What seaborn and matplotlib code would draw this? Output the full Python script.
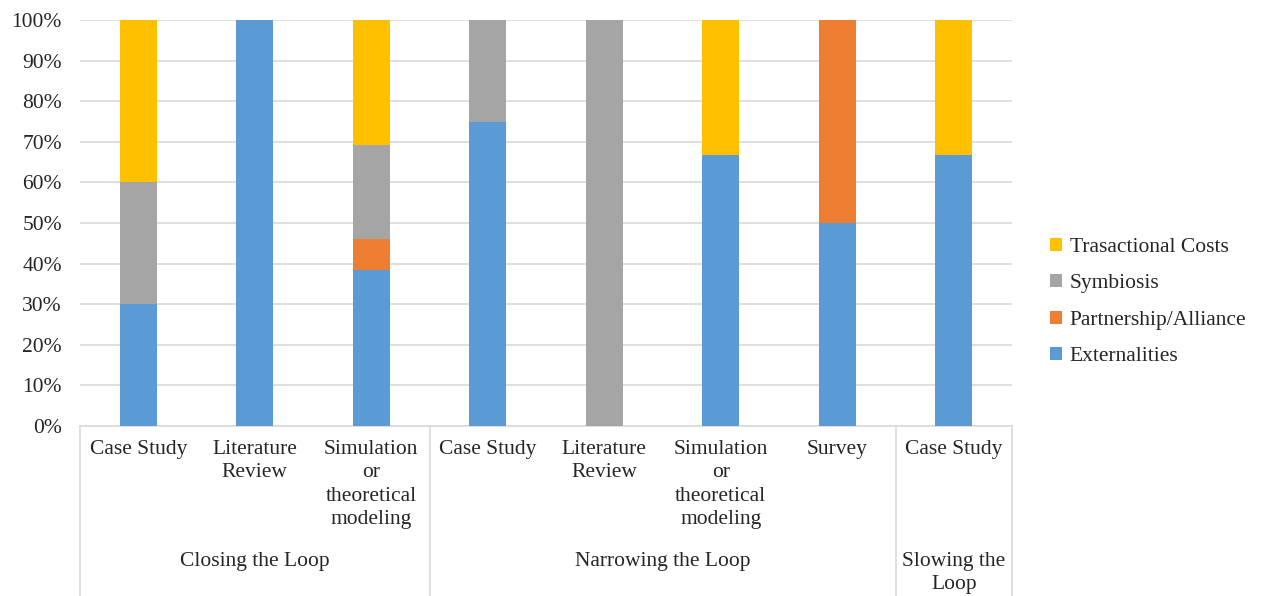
import matplotlib
matplotlib.use("Agg")
import matplotlib.pyplot as plt
import matplotlib.ticker as mticker
from matplotlib.patches import Patch
import numpy as np
import pandas as pd
import seaborn as sns

# Research method per slot and the circular-economy strategy group it belongs to
groups = ["Closing the Loop", "Closing the Loop", "Closing the Loop",
          "Narrowing the Loop", "Narrowing the Loop", "Narrowing the Loop", "Narrowing the Loop",
          "Slowing the\nLoop"]
methods = ["Case Study", "Literature\nReview", "Simulation\nor\ntheoretical\nmodeling",
           "Case Study", "Literature\nReview", "Simulation\nor\ntheoretical\nmodeling",
           "Survey", "Case Study"]

# Share of each theoretical lens (percent of studies)
externalities = [30.0, 100.0, 38.46, 75.0, 0.0, 66.67, 50.0, 66.67]
partnership = [0.0, 0.0, 7.69, 0.0, 0.0, 0.0, 50.0, 0.0]
symbiosis = [30.0, 0.0, 23.08, 25.0, 100.0, 0.0, 0.0, 0.0]
transactional = [40.0, 0.0, 30.77, 0.0, 0.0, 33.33, 0.0, 33.33]

series_names = ["Externalities", "Partnership/Alliance", "Symbiosis", "Trasactional Costs"]
series_colors = ["#5B9BD5", "#ED7D31", "#A5A5A5", "#FFC000"]

sns.set_theme(style="white")
plt.rcParams["font.family"] = ["Liberation Serif", "DejaVu Serif"]
FS = 15.5

slots = [f"s{i}" for i in range(len(methods))]
df = pd.DataFrame({
    "slot": slots,
    "Externalities": externalities,
    "Partnership/Alliance": partnership,
    "Symbiosis": symbiosis,
    "Trasactional Costs": transactional,
})
total = df[series_names].sum(axis=1)
for name in series_names:
    df[name] = df[name] / total

# cumulative tops so each segment sits on the ones below it
cum = df[series_names].cumsum(axis=1)

fig = plt.figure(figsize=(12.73, 5.96), dpi=100)
ax = fig.add_axes([80 / 1273, 1 - 426 / 596, (1012 - 80) / 1273, (426 - 20) / 596])

for name, color in reversed(list(zip(series_names, series_colors))):
    sns.barplot(x=df["slot"], y=cum[name], order=slots, color=color,
                width=0.32, saturation=1, ax=ax, linewidth=0, zorder=3)

ax.set_xlim(-0.5, len(slots) - 0.5)
ax.set_ylim(0, 1)
ax.yaxis.set_major_locator(mticker.MultipleLocator(0.1))
ax.yaxis.set_major_formatter(mticker.PercentFormatter(xmax=1, decimals=0))
ax.grid(axis="y", color="#D9D9D9", linewidth=1.2, zorder=0)
ax.grid(axis="x", visible=False)
ax.set_xlabel("")
ax.set_ylabel("")
ax.set_xticks(range(len(slots)))
ax.set_xticklabels([])
ax.tick_params(axis="both", length=0)
ax.tick_params(axis="y", labelsize=FS, labelcolor="#262626", pad=13)
for side in ["top", "right", "left"]:
    ax.spines[side].set_visible(False)
ax.spines["bottom"].set_color("#D9D9D9")
ax.spines["bottom"].set_linewidth(1.2)

# two-level category axis
trans = ax.get_xaxis_transform()
bottom_y = -(426 / 596) / ((426 - 20) / 596)
for i, m in enumerate(methods):
    ax.text(i, -0.035, m, transform=trans, ha="center", va="top",
            fontsize=FS, color="#262626", linespacing=1.3)

group_names = []
for g in groups:
    if g not in group_names:
        group_names.append(g)
edges = [-0.5]
for g in group_names:
    idx = [i for i, x in enumerate(groups) if x == g]
    ax.text(np.mean(idx), -0.31, g, transform=trans, ha="center", va="top",
            fontsize=FS, color="#262626", linespacing=1.3)
    edges.append(max(idx) + 0.5)
for e in edges:
    ax.plot([e, e], [0, bottom_y], transform=trans, color="#D9D9D9",
            linewidth=1.2, clip_on=False)

handles = [Patch(facecolor=c, edgecolor="none", label=n)
           for n, c in zip(series_names, series_colors)][::-1]
fig.legend(handles=handles, loc="center left", bbox_to_anchor=(1031 / 1273, 1 - 302 / 596),
           frameon=False, fontsize=FS, handlelength=0.55, handleheight=0.55,
           handletextpad=0.35, labelspacing=0.8, labelcolor="#262626")

fig.savefig("out.png", dpi=100, facecolor="white")
